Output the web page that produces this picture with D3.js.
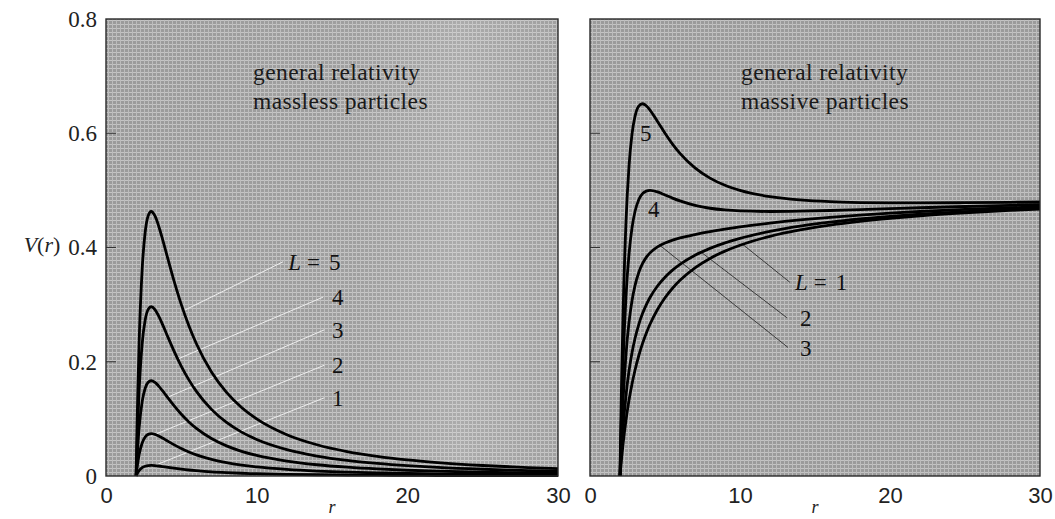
<!DOCTYPE html>
<html>
<head>
<meta charset="utf-8">
<script src="https://cdn.jsdelivr.net/npm/d3@7"></script>
<style>
  body { margin: 0; background: #fff; }
  svg { display: block; }
</style>
</head>
<body>
<svg id="chart" width="1055" height="519"></svg>
<script>
// radial coordinate samples (both panels)
var rValues = [2, 2.05, 2.1, 2.2, 2.4, 2.6, 2.8, 3, 3.25, 3.5, 3.75, 4, 4.5, 5, 5.5, 6, 7, 8, 9, 10, 12, 14, 16, 18, 20, 22, 25, 28, 30];

// left panel: massless particles
var masslessL1 = [0, 0.0029, 0.0054, 0.0094, 0.0145, 0.0171, 0.0182, 0.0185, 0.0182, 0.0175, 0.0166, 0.0156, 0.0137, 0.0120, 0.0105, 0.0093, 0.0073, 0.0059, 0.0048, 0.0040, 0.0029, 0.0022, 0.0017, 0.0014, 0.0011, 0.0009, 0.0007, 0.0006, 0.0005];
var masslessL2 = [0, 0.0116, 0.0216, 0.0376, 0.0579, 0.0683, 0.0729, 0.0741, 0.0728, 0.0700, 0.0664, 0.0625, 0.0549, 0.0480, 0.0421, 0.0370, 0.0292, 0.0234, 0.0192, 0.0160, 0.0116, 0.0087, 0.0068, 0.0055, 0.0045, 0.0038, 0.0029, 0.0024, 0.0021];
var masslessL3 = [0, 0.0261, 0.0486, 0.0845, 0.1302, 0.1536, 0.1640, 0.1667, 0.1639, 0.1574, 0.1493, 0.1406, 0.1235, 0.1080, 0.0947, 0.0833, 0.0656, 0.0527, 0.0432, 0.0360, 0.0260, 0.0197, 0.0154, 0.0123, 0.0101, 0.0085, 0.0066, 0.0053, 0.0047];
var masslessL4 = [0, 0.0464, 0.0864, 0.1503, 0.2315, 0.2731, 0.2916, 0.2963, 0.2913, 0.2799, 0.2655, 0.2500, 0.2195, 0.1920, 0.1683, 0.1481, 0.1166, 0.0937, 0.0768, 0.0640, 0.0463, 0.0350, 0.0273, 0.0220, 0.0180, 0.0150, 0.0118, 0.0095, 0.0083];
var masslessL5 = [0, 0.0726, 0.1350, 0.2348, 0.3617, 0.4267, 0.4556, 0.4630, 0.4552, 0.4373, 0.4148, 0.3906, 0.3429, 0.3000, 0.2630, 0.2315, 0.1822, 0.1465, 0.1200, 0.1000, 0.0723, 0.0547, 0.0427, 0.0343, 0.0281, 0.0235, 0.0184, 0.0148, 0.0130];

// right panel: massive particles
var massiveL1 = [0, 0.0151, 0.0292, 0.0548, 0.0978, 0.1325, 0.1611, 0.1852, 0.2105, 0.2318, 0.2499, 0.2656, 0.2915, 0.3120, 0.3287, 0.3426, 0.3644, 0.3809, 0.3937, 0.4040, 0.4196, 0.4308, 0.4392, 0.4458, 0.4511, 0.4555, 0.4607, 0.4649, 0.4672];
var massiveL2 = [0, 0.0238, 0.0454, 0.0830, 0.1412, 0.1837, 0.2157, 0.2407, 0.2651, 0.2843, 0.2997, 0.3125, 0.3326, 0.3480, 0.3603, 0.3704, 0.3863, 0.3984, 0.4081, 0.4160, 0.4282, 0.4373, 0.4443, 0.4499, 0.4545, 0.4583, 0.4629, 0.4667, 0.4687];
var massiveL3 = [0, 0.0383, 0.0724, 0.1300, 0.2135, 0.2690, 0.3069, 0.3333, 0.3562, 0.3717, 0.3827, 0.3906, 0.4012, 0.4080, 0.4128, 0.4167, 0.4227, 0.4277, 0.4321, 0.4360, 0.4427, 0.4483, 0.4529, 0.4568, 0.4601, 0.4630, 0.4666, 0.4696, 0.4713];
var massiveL4 = [0, 0.0586, 0.1102, 0.1957, 0.3148, 0.3885, 0.4344, 0.4630, 0.4836, 0.4942, 0.4988, 0.5000, 0.4973, 0.4920, 0.4865, 0.4815, 0.4738, 0.4687, 0.4657, 0.4640, 0.4630, 0.4636, 0.4648, 0.4664, 0.4680, 0.4696, 0.4718, 0.4738, 0.4750];
var massiveL5 = [0, 0.0847, 0.1588, 0.2802, 0.4450, 0.5421, 0.5984, 0.6296, 0.6475, 0.6516, 0.6482, 0.6406, 0.6207, 0.6000, 0.5811, 0.5648, 0.5394, 0.5215, 0.5089, 0.5000, 0.4890, 0.4833, 0.4802, 0.4787, 0.4781, 0.4780, 0.4784, 0.4791, 0.4797];

// ticks
var xTicks = [0, 10, 20, 30];
var yTicks = [0, 0.2, 0.4, 0.6, 0.8];

// curve labels and leader lines, in data units [r, V]
var masslessLabels = ["L = 5", "4", "3", "2", "1"];
var masslessLabelAt = [[12.1, 0.375], [15.0, 0.313], [15.0, 0.256], [15.0, 0.194], [15.0, 0.137]];
var masslessLeaderFrom = [[5.2, 0.29], [4.78, 0.205], [4.1, 0.138], [3.0, 0.070], [3.0, 0.016]];
var masslessLeaderTo = [[11.75, 0.375], [14.4, 0.313], [14.5, 0.256], [14.5, 0.194], [14.5, 0.137]];

var massiveLabels = ["5", "4", "L = 1", "2", "3"];
var massiveLabelAt = [[3.33, 0.60], [3.87, 0.468], [13.67, 0.339], [14.0, 0.277], [14.0, 0.225]];
var massiveLeaderFrom = [[10.2, 0.405], [7.4, 0.392], [4.6, 0.405]];
var massiveLeaderTo = [[13.33, 0.339], [13.13, 0.277], [13.2, 0.225]];

var svg = d3.select("#chart");
var serif = "'Liberation Serif', 'Times New Roman', serif";
var sans = "'Liberation Sans', Arial, sans-serif";

// paper-like screen texture
var defs = svg.append("defs");
var pat = defs.append("pattern").attr("id", "screen")
    .attr("width", 4).attr("height", 4).attr("patternUnits", "userSpaceOnUse");
pat.append("rect").attr("width", 4).attr("height", 4).attr("fill", "#9b9b9b");
pat.append("rect").attr("width", 4).attr("height", 1).attr("fill", "#c4c4c4");
pat.append("rect").attr("width", 1).attr("height", 4).attr("fill", "#bcbcbc");
var glow = defs.append("linearGradient").attr("id", "glow");
glow.append("stop").attr("offset", "0").attr("stop-color", "#fff").attr("stop-opacity", 0);
glow.append("stop").attr("offset", "0.55").attr("stop-color", "#fff").attr("stop-opacity", 0.04);
glow.append("stop").attr("offset", "0.78").attr("stop-color", "#fff").attr("stop-opacity", 0.16);
glow.append("stop").attr("offset", "1").attr("stop-color", "#fff").attr("stop-opacity", 0.05);

function drawPanel(opt) {
    var x = d3.scaleLinear().domain([0, 30]).range([opt.x0, opt.x1]);
    var y = d3.scaleLinear().domain([0, 0.8]).range([opt.y1, opt.y0]);
    var g = svg.append("g");

    g.append("rect").attr("x", opt.x0).attr("y", opt.y0)
        .attr("width", opt.x1 - opt.x0).attr("height", opt.y1 - opt.y0)
        .attr("fill", "url(#screen)");
    if (opt.glow) {
        g.append("rect").attr("x", opt.x0).attr("y", opt.y0)
            .attr("width", opt.x1 - opt.x0).attr("height", opt.y1 - opt.y0)
            .attr("fill", "url(#glow)");
    }

    // inside ticks on the left edge
    g.selectAll(".ytick").data(yTicks.slice(1, 4)).enter().append("line")
        .attr("x1", opt.x0).attr("x2", opt.x0 + 10)
        .attr("y1", function (d) { return y(d); }).attr("y2", function (d) { return y(d); })
        .attr("stroke", "#333").attr("stroke-width", 1);

    // leader lines
    g.selectAll(".leader").data(opt.leaderFrom).enter().append("line")
        .attr("x1", function (d) { return x(d[0]); })
        .attr("y1", function (d) { return y(d[1]); })
        .attr("x2", function (d, i) { return x(opt.leaderTo[i][0]); })
        .attr("y2", function (d, i) { return y(opt.leaderTo[i][1]); })
        .attr("stroke", opt.leaderColor).attr("stroke-width", 1);

    var line = d3.line()
        .x(function (d) { return x(d[0]); })
        .y(function (d) { return y(d[1]); })
        .curve(d3.curveMonotoneX);
    g.selectAll(".curve").data(opt.series).enter().append("path")
        .attr("d", function (vals) { return line(rValues.map(function (r, i) { return [r, vals[i]]; })); })
        .attr("fill", "none").attr("stroke", "#000").attr("stroke-width", 2.8)
        .attr("stroke-linejoin", "round");

    // curve labels ("L = n" gets an italic L and wide spacing)
    g.selectAll(".lab").data(opt.labels).enter().append("text")
        .attr("x", function (d, i) { return x(opt.labelAt[i][0]); })
        .attr("y", function (d, i) { return y(opt.labelAt[i][1]); })
        .attr("dy", "0.35em")
        .attr("font-family", serif).attr("font-size", 23).attr("fill", "#111")
        .each(function (d) {
            var t = d3.select(this);
            var parts = d.split(" = ");
            if (parts.length === 2) {
                t.append("tspan").attr("font-style", "italic").text(parts[0]);
                t.append("tspan").attr("dx", 6).text("=");
                t.append("tspan").attr("dx", 9).text(parts[1]);
            } else {
                t.text(d);
            }
        });

    // title
    var title = g.append("text").attr("font-family", serif).attr("font-size", 23.5)
        .attr("letter-spacing", 0.4).attr("fill", "#1a1a1a");
    title.append("tspan").attr("x", opt.x0 + opt.titleDx).attr("y", 80).text("general relativity");
    title.append("tspan").attr("x", opt.x0 + opt.titleDx).attr("y", 109).text(opt.subtitle);

    // frame
    g.append("rect").attr("x", opt.x0).attr("y", opt.y0)
        .attr("width", opt.x1 - opt.x0).attr("height", opt.y1 - opt.y0)
        .attr("fill", "none").attr("stroke", "#2a2a2a").attr("stroke-width", 1.4);

    // x axis labels
    var xAxis = d3.axisBottom(x).tickValues(xTicks).tickSize(0).tickPadding(0)
        .tickFormat(d3.format("d"));
    var xa = svg.append("g").attr("transform", "translate(0," + 487 + ")").call(xAxis);
    xa.select(".domain").remove();
    xa.selectAll("text").attr("font-family", sans).attr("font-size", 22).attr("fill", "#222");

    svg.append("text").attr("x", x(15)).attr("y", 513)
        .attr("text-anchor", "middle").attr("font-family", serif)
        .attr("font-style", "italic").attr("font-size", 18).attr("fill", "#222").text("r");
    return y;
}

var yLeft = drawPanel({
    x0: 106, x1: 558, y0: 19, y1: 476, glow: true,
    series: [masslessL1, masslessL2, masslessL3, masslessL4, masslessL5],
    labels: masslessLabels, labelAt: masslessLabelAt,
    leaderFrom: masslessLeaderFrom, leaderTo: masslessLeaderTo, leaderColor: "#eeeeee",
    titleDx: 147, subtitle: "massless particles"
});
drawPanel({
    x0: 590, x1: 1040, y0: 19, y1: 476, glow: false,
    series: [massiveL1, massiveL2, massiveL3, massiveL4, massiveL5],
    labels: massiveLabels, labelAt: massiveLabelAt,
    leaderFrom: massiveLeaderFrom, leaderTo: massiveLeaderTo, leaderColor: "#3a3a3a",
    titleDx: 151, subtitle: "massive particles"
});

// y axis labels
var yAxis = d3.axisLeft(yLeft).tickValues(yTicks).tickSize(0).tickPadding(0)
    .tickFormat(function (d) { return d === 0 ? "0" : d3.format(".1f")(d); });
var ya = svg.append("g").attr("transform", "translate(97,0)").call(yAxis);
ya.select(".domain").remove();
ya.selectAll("text").attr("font-family", serif).attr("font-size", 23).attr("fill", "#222");

var vl = svg.append("text").attr("x", 42).attr("y", 252).attr("text-anchor", "middle")
    .attr("font-family", serif).attr("font-size", 22).attr("fill", "#222");
vl.append("tspan").attr("font-style", "italic").text("V");
vl.append("tspan").text("(");
vl.append("tspan").attr("font-style", "italic").text("r");
vl.append("tspan").text(")");
</script>
</body>
</html>
